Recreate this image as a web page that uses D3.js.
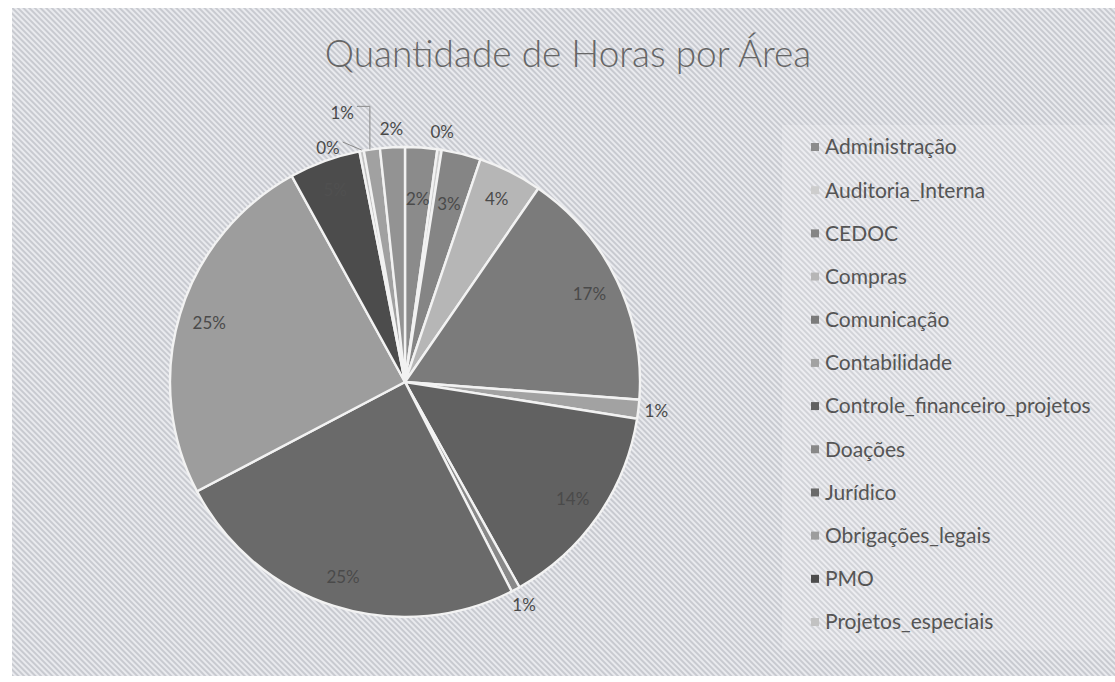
<!DOCTYPE html>
<html>
<head>
<meta charset="utf-8">
<script src="https://cdn.jsdelivr.net/npm/d3@7"></script>
<style>
  body { margin: 0; background: #fff; }
  svg { display: block; font-family: Lato, "Open Sans", sans-serif; }
</style>
</head>
<body>
<div id="chart"></div>
<script>
// areas, in pie order (clockwise from 12 o'clock)
// the last two are cut off from the legend in the original, names unknown
var areas = ['Administração', 'Auditoria_Interna', 'CEDOC', 'Compras', 'Comunicação',
  'Contabilidade', 'Controle_financeiro_projetos', 'Doações', 'Jurídico',
  'Obrigações_legais', 'PMO', 'Projetos_especiais', '(não listado 1)', '(não listado 2)'];

// share of hours
var horas = [2.2, 0.3, 2.7, 4.4, 16.6, 1.3, 14.4, 0.6, 24.8, 24.7, 4.9, 0.3, 1.1, 1.7];

// how each data label sits: in = inside slice, out = just outside, lead = moved with leader line
var labelModes = ['in', 'out', 'in', 'in', 'in', 'out', 'in', 'out', 'in', 'in', 'in', 'lead', 'lead', 'out'];

var legendCount = 12; // only 12 entries fit in the legend

var W = 1115, H = 682;
var cx = 405, cy = 382, R = 235;

var grays = ['#8b8b8b', '#cdcdcd', '#858585', '#b6b6b6', '#7b7b7b', '#a2a2a2', '#616161',
  '#888888', '#6a6a6a', '#9d9d9d', '#4c4c4c', '#c2c2c2', '#a1a1a1', '#939393'];

var color = d3.scaleOrdinal().domain(areas).range(grays);

var data = areas.map(function(a, i) { return {name: a, v: horas[i], mode: labelModes[i]}; });
var total = d3.sum(horas);

var svg = d3.select('#chart').append('svg')
  .attr('width', W)
  .attr('height', H);

// hatched scan-like background
var defs = svg.append('defs');
var pat = defs.append('pattern')
  .attr('id', 'hatch')
  .attr('width', 4)
  .attr('height', 4)
  .attr('patternUnits', 'userSpaceOnUse')
  .attr('patternTransform', 'rotate(-45)');
pat.append('rect').attr('width', 4).attr('height', 4).attr('fill', '#c8cad0');
pat.append('rect').attr('width', 2).attr('height', 4).attr('fill', '#e9eaee');

svg.append('rect')
  .attr('x', 12).attr('y', 8)
  .attr('width', W - 12).attr('height', H - 14)
  .attr('fill', 'url(#hatch)');

// slightly lighter legend area
svg.append('rect')
  .attr('x', 782).attr('y', 125)
  .attr('width', W - 782).attr('height', 525)
  .attr('fill', '#fff')
  .attr('opacity', 0.18);

svg.append('text')
  .attr('x', 568)
  .attr('y', 67)
  .attr('text-anchor', 'middle')
  .style('font-size', '37px')
  .style('font-weight', 300)
  .style('fill', '#666')
  .text('Quantidade de Horas por Área');

var pie = d3.pie().sort(null).value(function(d) { return d.v; });
var arcs = pie(data);

var arc = d3.arc().innerRadius(0).outerRadius(R);

var g = svg.append('g')
  .attr('transform', 'translate(' + cx + ',' + cy + ')');

g.selectAll('path')
  .data(arcs)
  .enter()
  .append('path')
    .attr('d', arc)
    .attr('fill', function(d) { return color(d.data.name); })
    .attr('stroke', '#f2f2f2')
    .attr('stroke-width', 2.4);

function pt(a, r) {
  return [r * Math.sin(a), -r * Math.cos(a)];
}

// leader label offsets, relative to the slice edge point
var leadOffset = {
  'Projetos_especiais': [-22, -8],
  '(não listado 1)': [-18, -41]
};

arcs.forEach(function(d) {
  var pct = Math.round(d.data.v / total * 100) + '%';
  var mid = (d.startAngle + d.endAngle) / 2;
  var p, anchor = 'middle';
  if (d.data.mode === 'in') {
    var f = pct === '2%' || pct === '3%' ? 0.78 : 0.87;
    p = pt(mid, R * f);
  } else if (d.data.mode === 'out') {
    p = pt(mid, R + 18);
  } else {
    var e = pt(mid, R);
    var off = leadOffset[d.data.name];
    p = [e[0] + off[0], e[1] + off[1]];
    anchor = 'end';
    var lx = p[0] + 3;
    var path = off[1] < -20
      ? [[lx, p[1] - 2], [e[0] - 2, p[1] - 2], [e[0] - 2, e[1]]]
      : [[lx, p[1] - 1], [e[0], e[1] - 1]];
    g.append('path')
      .attr('d', d3.line()(path))
      .attr('fill', 'none')
      .attr('stroke', '#8a8a8a')
      .attr('stroke-width', 1);
    p[1] += 5;
  }
  g.append('text')
    .attr('x', p[0])
    .attr('y', p[1])
    .attr('dy', '0.35em')
    .attr('text-anchor', anchor)
    .style('font-size', '17px')
    .style('fill', d.data.name === 'PMO' ? '#505050' : '#4a4a4a')
    .text(pct);
});

// legend
var ly = d3.scalePoint()
  .domain(areas.slice(0, legendCount))
  .range([147, 622]);

var leg = svg.append('g');
leg.selectAll('rect')
  .data(areas.slice(0, legendCount))
  .enter()
  .append('rect')
    .attr('x', 811)
    .attr('y', function(d) { return ly(d) - 4; })
    .attr('width', 8)
    .attr('height', 8)
    .attr('fill', function(d) { return color(d); });

leg.selectAll('text')
  .data(areas.slice(0, legendCount))
  .enter()
  .append('text')
    .attr('x', 825)
    .attr('y', function(d) { return ly(d); })
    .attr('dy', '0.35em')
    .style('font-size', '21px')
    .style('fill', '#555')
    .text(function(d) { return d; });
</script>
</body>
</html>
